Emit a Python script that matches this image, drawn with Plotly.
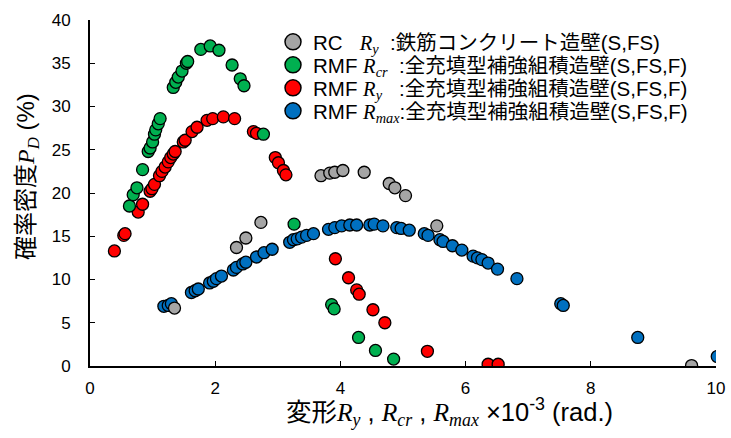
import plotly.graph_objects as go

# 鉄筋コンクリート造壁 Ry
rc_ry_x = [1.35, 2.34, 2.49, 2.73, 3.69, 3.83, 3.91, 4.04, 4.38, 4.78, 4.87, 5.04, 5.54, 9.61]
rc_ry_y = [6.7, 13.7, 14.8, 16.6, 22.0, 22.3, 22.4, 22.6, 22.4, 21.1, 20.6, 19.7, 16.2, 0.05]

# 全充填型補強組積造壁 Rcr
rmf_rcr_x = [0.63, 0.69, 0.75, 0.84, 0.93, 0.96, 1.00, 1.03, 1.05, 1.09, 1.12,
             1.33, 1.37, 1.41, 1.47, 1.54, 1.56, 1.77, 1.92, 2.06, 2.27, 2.40, 2.46, 2.77,
             3.26, 3.86, 3.90, 4.29, 4.56, 4.85]
rmf_rcr_y = [18.5, 19.8, 20.6, 22.7, 24.8, 25.2, 25.9, 26.8, 27.3, 28.0, 28.6,
             32.2, 32.8, 33.4, 34.1, 35.0, 35.2, 36.6, 37.0, 36.5, 34.8, 33.2, 32.4, 26.8,
             16.4, 7.1, 6.6, 3.3, 1.8, 0.8]

# 全充填型補強組積造壁 Ry
rmf_ry_x = [0.39, 0.54, 0.56, 0.77, 0.84, 0.96, 0.99, 1.03, 1.11, 1.15, 1.20, 1.25, 1.29,
            1.33, 1.36, 1.49, 1.52, 1.63, 1.71, 1.87, 1.96, 2.13, 2.31, 2.61, 2.66,
            2.96, 3.01, 3.09, 3.13, 3.92, 4.13, 4.26, 4.30, 4.52, 4.71, 5.39, 6.36, 6.52]
rmf_ry_y = [13.3, 15.1, 15.3, 17.8, 18.7, 20.2, 20.5, 21.0, 22.0, 22.5, 23.0, 23.6, 24.1,
            24.5, 24.8, 25.9, 26.1, 27.1, 27.6, 28.4, 28.6, 28.8, 28.6, 27.1, 26.9,
            24.1, 23.5, 22.6, 22.1, 12.4, 10.2, 8.8, 8.3, 6.5, 5.0, 1.7, 0.2, 0.2]

# 全充填型補強組積造壁 Rmax
rmf_rmax_x = [1.18, 1.25, 1.30, 1.62, 1.68, 1.73, 1.91, 1.97, 2.02, 2.10, 2.29, 2.34, 2.44,
              2.49, 2.66, 2.78, 2.91, 3.19, 3.25, 3.31, 3.38, 3.46, 3.57, 3.81, 3.91, 4.02,
              4.15, 4.26, 4.47, 4.54, 4.68, 4.90, 4.97, 5.10, 5.34, 5.40, 5.59, 5.64, 5.79,
              5.94, 6.12, 6.19, 6.26, 6.36, 6.51, 6.82, 7.52, 7.56, 8.75, 10.02]
rmf_rmax_y = [6.9, 7.0, 7.2, 8.5, 8.7, 8.9, 9.6, 9.8, 10.1, 10.4, 11.1, 11.4, 11.8,
              12.0, 12.6, 13.1, 13.5, 14.3, 14.6, 14.7, 14.9, 15.1, 15.3, 15.8, 16.0, 16.2,
              16.3, 16.3, 16.3, 16.4, 16.2, 16.0, 15.9, 15.7, 15.3, 15.1, 14.6, 14.4, 13.9,
              13.4, 12.7, 12.5, 12.3, 11.9, 11.2, 10.1, 7.2, 7.0, 3.3, 1.1]

SERIF = "'Liberation Serif', 'DejaVu Serif', serif"
SANS = "'Liberation Sans', Arial, 'Noto Sans CJK JP', sans-serif"
NB = "\u00a0"


def math(sym, sub):
    return f"<span style=\"font-family:{SERIF}\"><i>{sym}<sub>{sub}</sub></i></span>"


# name, x, y, colour, legend id, legend row (pixel centre from top)
series = [
    ("RMF " + math("R", "max") + ":全充填型補強組積造壁(S,FS,F)",
     rmf_rmax_x, rmf_rmax_y, "#0070C0", "legend4", 111),
    ("RMF " + math("R", "y") + NB * 3 + ":全充填型補強組積造壁(S,FS,F)",
     rmf_ry_x, rmf_ry_y, "#FF0000", "legend3", 88),
    ("RMF " + math("R", "cr") + NB * 2 + ":全充填型補強組積造壁(S,FS,F)",
     rmf_rcr_x, rmf_rcr_y, "#00B050", "legend2", 65),
    ("RC" + NB * 3 + math("R", "y") + NB * 2 + ":鉄筋コンクリート造壁(S,FS)",
     rc_ry_x, rc_ry_y, "#A5A5A5", "legend", 42),
]

L, R, T, B = 90, 15, 20, 72
W, H = 731, 438
PW, PH = W - L - R, H - T - B

fig = go.Figure()
legends = {}
for name, xs, ys, color, lg, row in series:
    fig.add_trace(go.Scatter(
        x=xs, y=ys, mode="markers", showlegend=False,
        marker=dict(size=12, color=color, line=dict(color="black", width=1.3)),
    ))
    # legend entry with a larger symbol
    fig.add_trace(go.Scatter(
        x=[None], y=[None], mode="markers", name=name, legend=lg,
        marker=dict(size=20, color=color, line=dict(color="black", width=1.5)),
    ))
    legends[lg] = dict(
        x=(273 - L) / PW, y=(H - B - row) / PH, xanchor="left", yanchor="middle",
        itemsizing="trace", font=dict(size=20.5, family=SANS, color="black"),
        bgcolor="rgba(0,0,0,0)", itemwidth=30,
    )

axis_common = dict(
    showline=True, linecolor="black", linewidth=2,
    ticks="inside", ticklen=5, tickwidth=1, tickcolor="black",
    showgrid=False, zeroline=False, mirror=False, automargin=False,
    tickfont=dict(size=17),
)

fig.update_layout(
    width=W, height=H,
    margin=dict(l=L, r=R, t=T, b=B, autoexpand=False),
    plot_bgcolor="white", paper_bgcolor="white",
    font=dict(family=SANS, size=17, color="black"),
    xaxis=dict(range=[0, 10], dtick=2, tick0=0, ticklabelstandoff=6, **axis_common),
    yaxis=dict(range=[0, 40], dtick=5, tick0=0, ticklabelstandoff=14, **axis_common),
    annotations=[
        dict(
            text="変形" + math("R", "y") + " , " + math("R", "cr") + " , " + math("R", "max")
                 + " ×10<sup>-3</sup> (rad.)",
            xref="paper", yref="paper", x=(449 - L) / PW, y=-(412 - (H - B)) / PH,
            xanchor="center", yanchor="middle", showarrow=False, font=dict(size=25.5),
        ),
        dict(
            text="確率密度" + math("P", "D") + " (%)",
            xref="paper", yref="paper", x=(27 - L) / PW, y=(H - B - 177) / PH,
            xanchor="center", yanchor="middle", textangle=-90, showarrow=False,
            font=dict(size=24),
        ),
    ],
    **legends,
)

fig.write_html("out.html")
